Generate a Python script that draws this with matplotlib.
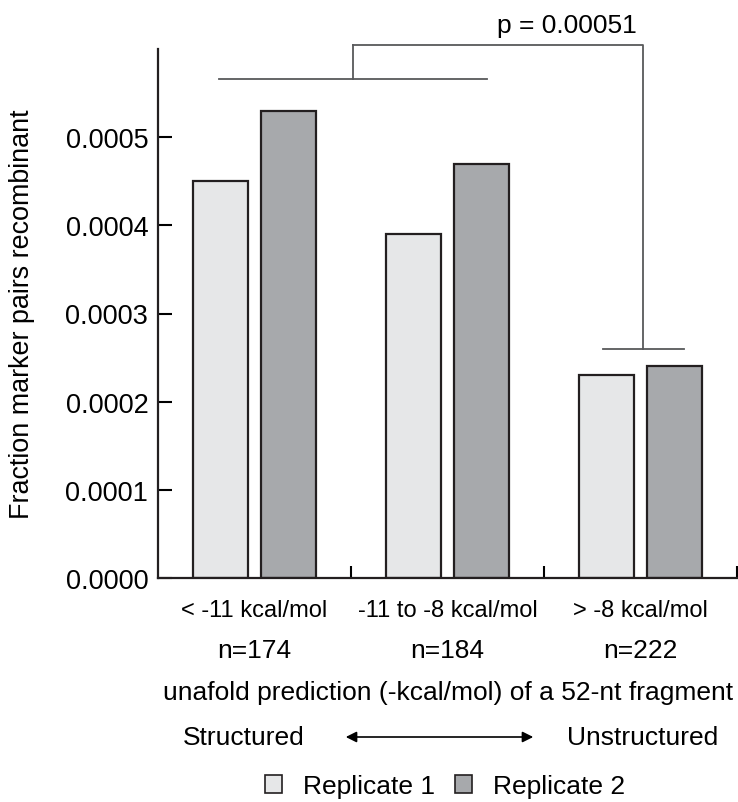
import numpy as np
import matplotlib
matplotlib.use("Agg")
import matplotlib.pyplot as plt
from matplotlib.patches import Patch

plt.rcParams['font.family'] = ['Liberation Sans', 'DejaVu Sans']

# data
categories = ['< -11 kcal/mol', '-11 to -8 kcal/mol', '> -8 kcal/mol']
n_labels = ['n=174', 'n=184', 'n=222']
rep1 = [0.00045, 0.00039, 0.00023]
rep2 = [0.00053, 0.00047, 0.00024]
yticks = [0.0, 0.0001, 0.0002, 0.0003, 0.0004, 0.0005]
p_text = 'p = 0.00051'

c_light = '#e6e7e8'
c_dark = '#a7a9ac'
c_edge = '#231f20'
c_brk = '#58595b'
fs = 19

fig = plt.figure(figsize=(7.38, 8.03), dpi=100)
ax = fig.add_axes([158 / 738, 1 - 579 / 803, (737 - 158) / 738, (579 - 50) / 803])

x = np.arange(len(categories))
w = 0.285
ax.bar(x - 0.175, rep1, width=w, color=c_light, edgecolor=c_edge, linewidth=1.6)
ax.bar(x + 0.175, rep2, width=w, color=c_dark, edgecolor=c_edge, linewidth=1.6)

ax.set_xlim(-0.5, 2.5)
ax.set_ylim(0, 0.0006)
ax.set_yticks(yticks)
ax.set_yticklabels(['%.4f' % v for v in yticks], fontsize=19.5)
ax.set_xticks([0.5, 1.5, 2.5])
ax.set_xticklabels([])
ax.tick_params(axis='y', direction='in', length=10, width=1.5, pad=7)
ax.tick_params(axis='x', direction='in', length=9, width=1.5)
for s in ['top', 'right']:
    ax.spines[s].set_visible(False)
for s in ['left', 'bottom']:
    ax.spines[s].set_linewidth(1.6)
    ax.spines[s].set_color(c_edge)
ax.set_ylabel('Fraction marker pairs recombinant', fontsize=19.4)
ax.yaxis.set_label_coords(-0.212, 0.5)

# significance bracket
kw = dict(color=c_brk, lw=1.3, clip_on=False)
ax.plot([-0.184, 1.205], [0.000566, 0.000566], **kw)
ax.plot([0.51, 0.51], [0.000566, 0.000604], **kw)
ax.plot([0.51, 2.013, 2.013], [0.000604, 0.000604, 0.00026], **kw)
ax.plot([1.806, 2.225], [0.00026, 0.00026], **kw)
ax.text(1.619, 0.000627, p_text, ha='center', va='center', fontsize=fs)

# category labels under the axis
for xi, cat, n in zip(x, categories, n_labels):
    ax.text(xi, -0.0605, cat, transform=ax.get_xaxis_transform(),
            ha='center', va='center', fontsize=17)
    ax.text(xi, -0.136, n, transform=ax.get_xaxis_transform(),
            ha='center', va='center', fontsize=fs)

fig.text(448 / 738, 1 - 693 / 803, 'unafold prediction (-kcal/mol) of a 52-nt fragment',
         ha='center', va='center', fontsize=fs)
fig.text(244 / 738, 1 - 738 / 803, 'Structured', ha='center', va='center', fontsize=fs)
fig.text(643 / 738, 1 - 738 / 803, 'Unstructured', ha='center', va='center', fontsize=fs)
ax.annotate('', xy=(536 / 738, 1 - 738 / 803), xytext=(343 / 738, 1 - 738 / 803),
            xycoords='figure fraction', textcoords='figure fraction',
            arrowprops=dict(arrowstyle='<|-|>', color='k', lw=1.2, mutation_scale=16),
            annotation_clip=False)

handles = [Patch(facecolor=c_light, edgecolor=c_edge, linewidth=1.2, label='Replicate 1'),
           Patch(facecolor=c_dark, edgecolor=c_edge, linewidth=1.2, label='Replicate 2')]
fig.legend(handles=handles, loc='center', bbox_to_anchor=(445 / 738, 1 - 787 / 803),
           ncol=2, frameon=False, fontsize=fs, handlelength=0.65, handleheight=0.65,
           handletextpad=0.8, columnspacing=0.75)

fig.savefig('out.png', dpi=100)
